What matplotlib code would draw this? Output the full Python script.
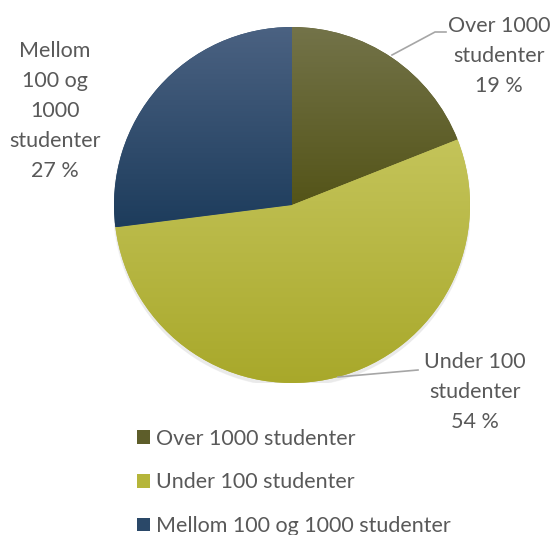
import numpy as np
import matplotlib
matplotlib.use('Agg')
import matplotlib.pyplot as plt
from matplotlib.colors import to_rgb
from matplotlib.patches import Circle

plt.rcParams.update({
    'font.family': ['Lato', 'DejaVu Sans'],
    'font.size': 15.5,
    'text.color': '#595959',
})

# data
labels = ['Over 1000 studenter', 'Under 100 studenter', 'Mellom 100 og 1000 studenter']
values = [19, 54, 27]
slice_labels = ['Over 1000\nstudenter\n19 %', 'Under 100\nstudenter\n54 %',
                'Mellom\n100 og\n1000\nstudenter\n27 %']

# gradient colours per slice (top, bottom)
top_cols = ['#737349', '#c4c45a', '#4b6282']
bot_cols = ['#545418', '#a8a82a', '#1d3c5c']
mid_cols = ['#5d5d2a', '#b5b53a', '#2a4868']

W, H = 552, 535
fig = plt.figure(figsize=(W / 100, H / 100), dpi=100)

cx, cy, r = 292, 205, 178
ax = fig.add_axes([(cx - r) / W, (H - cy - r) / H, 2 * r / W, 2 * r / H])
ax.set_aspect('equal')
ax.axis('off')

# soft shadow under the pie
for k, a in enumerate([0.05, 0.05, 0.06]):
    ax.add_patch(Circle((0.0, -0.012 - 0.006 * k), 1.0 + 0.004 * (2 - k),
                        color='#7f7f7f', alpha=a, lw=0, zorder=0))

wedges, _ = ax.pie(values, startangle=90, counterclock=False, radius=1,
                   colors=mid_cols, wedgeprops=dict(linewidth=0),
                   frame=False)

for w, ct, cb in zip(wedges, top_cols, bot_cols):
    v = w.get_path().vertices
    y0, y1 = v[:, 1].min(), v[:, 1].max()
    t = np.linspace(0, 1, 256)[:, None]
    grad = (1 - t) * np.array(to_rgb(ct)) + t * np.array(to_rgb(cb))
    img = ax.imshow(grad[:, None, :].repeat(2, axis=1), extent=[-1, 1, y0, y1],
                    origin='upper', aspect='auto', zorder=2, interpolation='bilinear')
    img.set_clip_path(w)
ax.set_xlim(-1, 1)
ax.set_ylim(-1, 1)

# overlay in pixel coordinates for labels and leader lines
ov = fig.add_axes([0, 0, 1, 1], facecolor='none')
ov.set_xlim(0, W)
ov.set_ylim(H, 0)
ov.axis('off')

ov.plot([392, 435, 446], [55, 32, 32], color='#a6a6a6', lw=1.2)
ov.plot([338, 418], [377, 370], color='#a6a6a6', lw=1.2)

ov.text(499, 56, slice_labels[0], ha='center', va='center', linespacing=1.65)
ov.text(475, 392, slice_labels[1], ha='center', va='center', linespacing=1.65)
ov.text(55, 111, slice_labels[2], ha='center', va='center', linespacing=1.62)

leg = fig.legend(wedges, labels, loc='upper left',
                 bbox_to_anchor=(128 / W, 1 - 420 / H),
                 frameon=False, handlelength=0.6, handleheight=0.6,
                 handletextpad=0.3, labelspacing=1.1, borderaxespad=0,
                 fontsize=15.5)
for txt in leg.get_texts():
    txt.set_color('#595959')

fig.savefig('out.png', dpi=100)
